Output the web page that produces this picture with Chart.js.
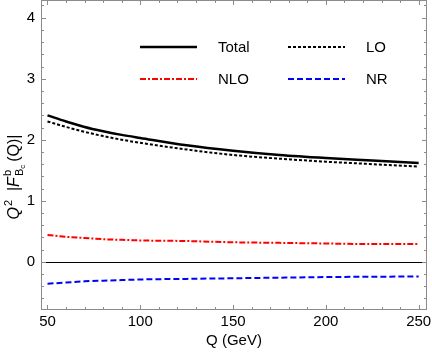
<!DOCTYPE html>
<html>
<head>
<meta charset="utf-8">
<script src="https://cdn.jsdelivr.net/npm/chart.js@4"></script>
<style>
  html, body { margin: 0; padding: 0; background: #fff; }
  #chart { display: block; }
</style>
</head>
<body>
<canvas id="chart" width="432" height="354"></canvas>
<script>
// Q values (GeV) and the four curves
const qValues = [50, 60, 70, 80, 90, 100, 125, 150, 175, 200, 225, 250];
const totalVals = [2.40, 2.30, 2.21, 2.14, 2.08, 2.03, 1.91, 1.82, 1.75, 1.70, 1.66, 1.62];
const loVals = [2.30, 2.21, 2.13, 2.06, 2.00, 1.95, 1.84, 1.75, 1.69, 1.64, 1.60, 1.56];
const nloVals = [0.44, 0.41, 0.39, 0.37, 0.36, 0.35, 0.34, 0.32, 0.31, 0.30, 0.29, 0.29];
const nrVals = [-0.36, -0.34, -0.32, -0.31, -0.30, -0.29, -0.28, -0.27, -0.26, -0.25, -0.245, -0.24];

const xTicks = [50, 100, 150, 200, 250];
const yTicks = [0, 1, 2, 3, 4];
const xMinor = [60, 70, 80, 90, 110, 120, 130, 140, 160, 170, 180, 190, 210, 220, 230, 240];
const yMinor = [-0.6, -0.4, -0.2, 0.2, 0.4, 0.6, 0.8, 1.2, 1.4, 1.6, 1.8, 2.2, 2.4, 2.6, 2.8, 3.2, 3.4, 3.6, 3.8, 4.2];

const FONT = '"Liberation Sans", Arial, sans-serif';

const pts = vals => qValues.map((q, i) => ({ x: q, y: vals[i] }));

// frame, inward ticks, zero line, legend and the y-axis label
const framePlugin = {
    id: 'frame',
    beforeDatasetsDraw(chart) {
        const { ctx, chartArea: a, scales: { y } } = chart;
        const y0 = Math.round(y.getPixelForValue(0)) + 0.5;
        ctx.save();
        ctx.strokeStyle = '#000';
        ctx.lineWidth = 1;
        ctx.beginPath();
        ctx.moveTo(a.left, y0);
        ctx.lineTo(a.right, y0);
        ctx.stroke();
        ctx.restore();
    },
    afterDatasetsDraw(chart) {
        const { ctx, chartArea: a, scales: { x, y } } = chart;
        ctx.save();
        ctx.strokeStyle = '#8c8c8c';
        ctx.lineWidth = 1;
        ctx.strokeRect(a.left + 0.5, a.top + 0.5, a.right - a.left - 1, a.bottom - a.top - 1);

        const tick = (px, len, horiz) => {
            const p = Math.round(px) + 0.5;
            ctx.beginPath();
            if (horiz) {
                ctx.moveTo(p, a.bottom); ctx.lineTo(p, a.bottom - len);
                ctx.moveTo(p, a.top); ctx.lineTo(p, a.top + len);
            } else {
                ctx.moveTo(a.left, p); ctx.lineTo(a.left + len, p);
                ctx.moveTo(a.right, p); ctx.lineTo(a.right - len, p);
            }
            ctx.stroke();
        };
        xTicks.forEach(v => tick(x.getPixelForValue(v), 5, true));
        xMinor.forEach(v => tick(x.getPixelForValue(v), 3, true));
        yTicks.forEach(v => tick(y.getPixelForValue(v), 5, false));
        yMinor.forEach(v => tick(y.getPixelForValue(v), 3, false));

        // legend
        const rows = [
            { ds: 0, x: 140, y: 47 }, { ds: 1, x: 288, y: 47 },
            { ds: 2, x: 140, y: 79 }, { ds: 3, x: 288, y: 79 }
        ];
        rows.forEach(r => {
            const d = chart.data.datasets[r.ds];
            ctx.strokeStyle = d.borderColor;
            ctx.lineWidth = d.borderWidth;
            ctx.setLineDash(d.borderDash || []);
            ctx.beginPath();
            ctx.moveTo(r.x, r.y);
            ctx.lineTo(r.x + 57, r.y);
            ctx.stroke();
            ctx.setLineDash([]);
            ctx.fillStyle = '#000';
            ctx.font = '15px ' + FONT;
            ctx.textBaseline = 'middle';
            ctx.textAlign = 'left';
            ctx.fillText(d.label, r.x + 78, r.y + 1);
        });

        // y-axis label: Q^2 |F^b_{B_c}(Q)|
        ctx.translate(19, 178);
        ctx.rotate(-Math.PI / 2);
        ctx.fillStyle = '#000';
        ctx.textBaseline = 'alphabetic';
        ctx.textAlign = 'left';
        const big = '16px ' + FONT, ital = 'italic 16px ' + FONT, small = '11px ' + FONT, tiny = '8px ' + FONT;
        ctx.font = ital; const wQ = ctx.measureText('Q').width;
        ctx.font = small; const w2 = ctx.measureText('2').width;
        ctx.font = big; const wBar = ctx.measureText('  |').width;
        ctx.font = ital; const wF = ctx.measureText('F').width;
        ctx.font = small; const wB = ctx.measureText('B').width; const wb = ctx.measureText('b').width;
        ctx.font = tiny; const wc = ctx.measureText('c').width;
        ctx.font = big; const wRest = ctx.measureText('(Q)|').width;
        const wSub = Math.max(wb, wB + wc);
        const total = wQ + w2 + wBar + wF + wSub + 3 + wRest;
        let cx = -total / 2;
        ctx.font = ital; ctx.fillText('Q', cx, 0); cx += wQ + 1;
        ctx.font = small; ctx.fillText('2', cx, -7); cx += w2;
        ctx.font = big; ctx.fillText('  |', cx, 0); cx += wBar;
        ctx.font = ital; ctx.fillText('F', cx, 0); cx += wF + 1;
        ctx.font = small; ctx.fillText('b', cx, -8); ctx.fillText('B', cx, 4);
        ctx.font = tiny; ctx.fillText('c', cx + wB, 6);
        cx += wSub + 3;
        ctx.font = big; ctx.fillText('(Q)|', cx, 0);
        ctx.restore();
    }
};

new Chart(document.getElementById('chart'), {
    type: 'line',
    data: {
        datasets: [
            { label: 'Total', data: pts(totalVals), borderColor: '#000', borderWidth: 2.5 },
            { label: 'LO', data: pts(loVals), borderColor: '#000', borderWidth: 2, borderDash: [3, 2] },
            { label: 'NLO', data: pts(nloVals), borderColor: '#ff0000', borderWidth: 2, borderDash: [6, 2, 2, 2] },
            { label: 'NR', data: pts(nrVals), borderColor: '#0000ff', borderWidth: 2, borderDash: [6, 3] }
        ]
    },
    options: {
        responsive: false,
        animation: false,
        devicePixelRatio: 1,
        layout: { padding: { top: 0, right: 5, left: 0, bottom: 0 } },
        elements: { point: { radius: 0 }, line: { cubicInterpolationMode: 'monotone', fill: false } },
        plugins: { legend: { display: false }, tooltip: { enabled: false } },
        scales: {
            x: {
                type: 'linear',
                min: 46.5,
                max: 254.5,
                afterBuildTicks: s => { s.ticks = xTicks.map(v => ({ value: v })); },
                afterFit: s => { s.height = 44; s.paddingLeft = 0; s.paddingRight = 0; },
                grid: { display: false, drawTicks: false },
                border: { display: false },
                ticks: { color: '#000', padding: 3, maxRotation: 0, font: { family: FONT, size: 15 } },
                title: { display: true, text: 'Q (GeV)', color: '#000', padding: { top: 0, bottom: 4 }, font: { family: FONT, size: 15 } }
            },
            y: {
                type: 'linear',
                min: -0.79,
                max: 4.29,
                afterBuildTicks: s => { s.ticks = yTicks.map(v => ({ value: v })); },
                afterFit: s => { s.width = 41; s.paddingTop = 0; s.paddingBottom = 0; },
                grid: { display: false, drawTicks: false },
                border: { display: false },
                ticks: { color: '#000', padding: 6, font: { family: FONT, size: 15 } }
            }
        }
    },
    plugins: [framePlugin]
});
</script>
</body>
</html>
